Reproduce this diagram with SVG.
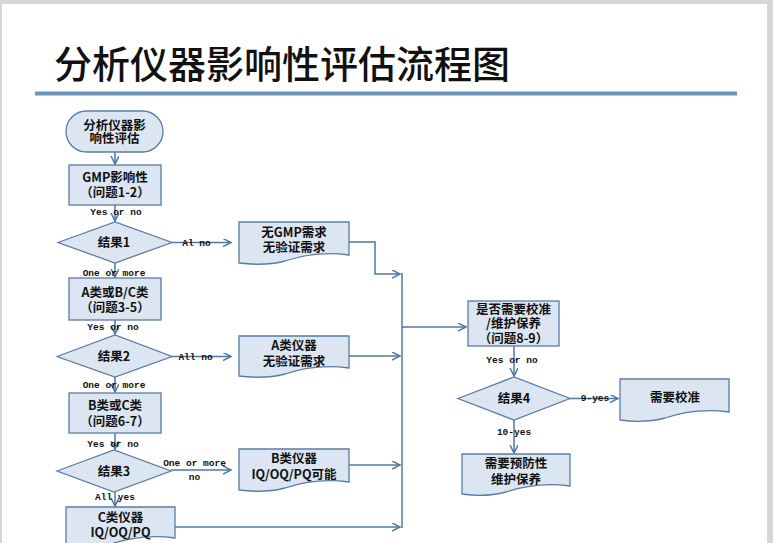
<svg xmlns="http://www.w3.org/2000/svg" width="773" height="543" viewBox="0 0 773 543">
<style>
.node{fill:#dce6f2;stroke:#5a7ca3;stroke-width:1.3}
.cn{fill:none;stroke:#4e78a0;stroke-width:1.5}
.t{font-family:"Noto Sans CJK SC","Noto Sans",sans-serif;font-weight:bold;font-size:12.5px;fill:#111;text-anchor:middle}
.l{font-family:"Liberation Mono","DejaVu Sans Mono",monospace;font-weight:bold;font-size:9.5px;fill:#111;text-anchor:middle}
</style>
<defs>
<marker id="ah" markerWidth="10" markerHeight="10" refX="8" refY="4" orient="auto" markerUnits="userSpaceOnUse">
<path d="M0,0 L8,4 L0,8" fill="none" stroke="#4e78a0" stroke-width="1.5"/>
</marker>
</defs>
<rect x="0" y="0" width="773" height="543" fill="#d6d6d6"/>
<rect x="2" y="4" width="765" height="539" fill="#ffffff"/>
<text x="54" y="78" font-family="'Noto Sans CJK SC','Noto Sans',sans-serif" font-size="38" font-weight="500" fill="#111">分析仪器影响性评估流程图</text>
<rect x="35" y="91.5" width="702" height="4" fill="#6b95bb"/>

<g id="connectors">
<line class="cn" x1="115" y1="152" x2="115" y2="164" marker-end="url(#ah)"/>
<line class="cn" x1="115" y1="205" x2="115" y2="221" marker-end="url(#ah)"/>
<line class="cn" x1="115" y1="263" x2="115" y2="277" marker-end="url(#ah)"/>
<line class="cn" x1="115" y1="320" x2="115" y2="334" marker-end="url(#ah)"/>
<line class="cn" x1="115" y1="377" x2="115" y2="392" marker-end="url(#ah)"/>
<line class="cn" x1="115" y1="433" x2="115" y2="449" marker-end="url(#ah)"/>
<line class="cn" x1="115" y1="492" x2="115" y2="506" marker-end="url(#ah)"/>
<line class="cn" x1="172" y1="242.5" x2="231" y2="242.5" marker-end="url(#ah)"/>
<line class="cn" x1="172" y1="356.5" x2="231" y2="356.5" marker-end="url(#ah)"/>
<line class="cn" x1="171" y1="470" x2="231" y2="470" marker-end="url(#ah)"/>
<polyline class="cn" points="349,242 375,242 375,274 400,274" marker-end="url(#ah)"/>
<line class="cn" x1="349" y1="356" x2="400" y2="356" marker-end="url(#ah)"/>
<line class="cn" x1="349" y1="465" x2="400" y2="465" marker-end="url(#ah)"/>
<line class="cn" x1="175" y1="527" x2="400" y2="527" marker-end="url(#ah)"/>
<line class="cn" x1="402" y1="273" x2="402" y2="528" stroke-width="2"/>
<line class="cn" x1="402" y1="327" x2="466" y2="327" marker-end="url(#ah)"/>
<line class="cn" x1="514" y1="346" x2="514" y2="376" marker-end="url(#ah)"/>
<line class="cn" x1="570" y1="398.5" x2="618" y2="398.5" marker-end="url(#ah)"/>
<line class="cn" x1="514" y1="420" x2="514" y2="453" marker-end="url(#ah)"/>
<text class="l" x="116" y="215">Yes or no</text>
<text class="l" x="196.5" y="246">Al no</text>
<text class="l" x="114" y="276">One or more<tspan x="114" y="288">yes</tspan></text>
<text class="l" x="113" y="330">Yes or no</text>
<text class="l" x="195.5" y="360">All no</text>
<text class="l" x="114" y="388">One or more<tspan x="114" y="400">yes</tspan></text>
<text class="l" x="113" y="447">Yes or no</text>
<text class="l" x="194.5" y="466">One or more<tspan x="194.5" y="480">no</tspan></text>
<text class="l" x="115" y="500">All yes</text>
<text class="l" x="512" y="363">Yes or no</text>
<text class="l" x="595" y="401">9-yes</text>
<text class="l" x="514" y="435">10-yes</text>
</g>

<g id="start">
<rect class="node" x="66" y="111" width="97" height="41" rx="20.5"/>
<text class="t" x="114.5" y="129.7">分析仪器影<tspan x="114.5" y="143.2">响性评估</tspan></text>
</g>
<g id="gmp">
<rect class="node" x="69" y="165" width="92" height="40"/>
<text class="t" x="115" y="181.7">GMP影响性<tspan x="115" y="196.7">（问题1-2）</tspan></text>
</g>
<g id="result1">
<polygon class="node" points="58,242.5 115,222 172,242.5 115,263"/>
<text class="t" x="114" y="247.2">结果1</text>
</g>
<g id="noGmp">
<path class="node" d="M239,222 H349 V255 C320,251 300,256 285,261 C270,265 255,265 239,263 Z"/>
<text class="t" x="294" y="236.7">无GMP需求<tspan x="294" y="251.7">无验证需求</tspan></text>
</g>
<g id="abc">
<rect class="node" x="69" y="278" width="92" height="42"/>
<text class="t" x="115" y="296.7">A类或B/C类<tspan x="115" y="311.7">（问题3-5）</tspan></text>
</g>
<g id="result2">
<polygon class="node" points="57,356.5 115,335 172,356.5 115,377"/>
<text class="t" x="114" y="360.8">结果2</text>
</g>
<g id="classA">
<path class="node" d="M239,336 H349 V368 C320,364 300,369 285,374 C270,378 255,378 239,376 Z"/>
<text class="t" x="294" y="349.7">A类仪器<tspan x="294" y="365.7">无验证需求</tspan></text>
</g>
<g id="bc">
<rect class="node" x="69" y="393" width="92" height="40"/>
<text class="t" x="115" y="409.7">B类或C类<tspan x="115" y="425.7">（问题6-7）</tspan></text>
</g>
<g id="result3">
<polygon class="node" points="57,471 114,450 171,471 114,492"/>
<text class="t" x="114" y="475.7">结果3</text>
</g>
<g id="classB">
<path class="node" d="M239,449 H349 V482 C320,478 300,483 285,488 C270,492 255,492 239,490 Z"/>
<text class="t" x="294" y="462.7">B类仪器<tspan x="294" y="478.7">IQ/OQ/PQ可能</tspan></text>
</g>
<g id="classC">
<path class="node" d="M66,507 H175 V538 C146,534 126,539 111,544 C96,548 81,548 66,546 Z"/>
<text class="t" x="120.5" y="521.7">C类仪器<tspan x="120.5" y="536.7">IQ/OQ/PQ</tspan></text>
</g>
<g id="calibQ">
<rect class="node" x="468" y="301" width="91" height="45"/>
<text class="t" x="513.5" y="313.7">是否需要校准<tspan x="513.5" y="327.7">/维护保养</tspan><tspan x="513.5" y="342.7">（问题8-9）</tspan></text>
</g>
<g id="result4">
<polygon class="node" points="458,398.5 514,377 570,398.5 514,420"/>
<text class="t" x="514" y="402.7">结果4</text>
</g>
<g id="needCalib">
<path class="node" d="M620,379 H729 V412 C700,408 680,413 665,418 C650,422 635,422 620,420 Z"/>
<text class="t" x="675" y="401.7">需要校准</text>
</g>
<g id="needMaint">
<path class="node" d="M462,454 H570 V486 C541,482 521,487 506,492 C491,496 476,496 462,494 Z"/>
<text class="t" x="516" y="467.7">需要预防性<tspan x="516" y="483.7">维护保养</tspan></text>
</g>
</svg>
